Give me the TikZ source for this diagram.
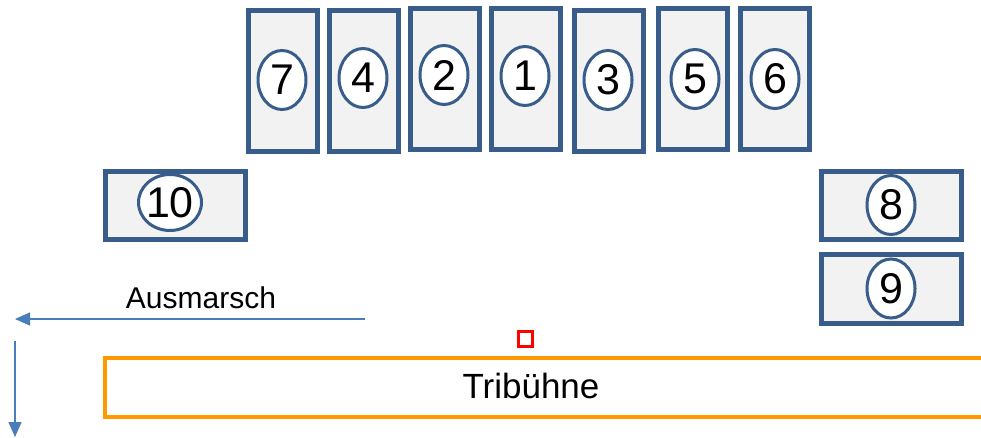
\documentclass[tikz,border=0pt]{standalone}
\usepackage{fontspec}
\setmainfont{Liberation Sans}
\usetikzlibrary{shapes.geometric,arrows.meta}
\definecolor{boxline}{HTML}{385D8A}
\definecolor{boxfill}{HTML}{F2F2F2}
\definecolor{arrowblue}{HTML}{4A7EBB}
\definecolor{tribune}{HTML}{FF9900}
\tikzset{
  tallbox/.style={draw=boxline, fill=boxfill, line width=5pt, inner sep=0pt,
    minimum width=69pt, minimum height=141pt},
  widebox/.style={draw=boxline, fill=boxfill, line width=5pt, inner sep=0pt,
    minimum width=140pt, minimum height=68.5pt},
  num/.style={ellipse, draw=boxline, fill=white, line width=3pt, inner sep=0pt,
    minimum width=48pt, minimum height=59pt, font=\fontsize{43}{43}\selectfont},
  flow/.style={draw=arrowblue, line width=1.5pt, -{Triangle[length=15pt,width=13pt]}},
}
\begin{document}
\begin{tikzpicture}[x=1pt,y=-1pt]
\clip (0,0) rectangle (981,438);
\fill[white] (0,0) rectangle (981,438);
% top row
\node[tallbox] (b7) at (282.5,81) {};
\node[tallbox] (b4) at (363.5,81.5) {};
\node[tallbox] (b2) at (444.5,79.5) {};
\node[tallbox] (b1) at (525.5,79.5) {};
\node[tallbox] (b3) at (609,81) {};
\node[tallbox] (b5) at (692.5,79.5) {};
\node[tallbox] (b6) at (775,79.5) {};
\node[num] (n7) at (282,80) {7};
\node[num] (n4) at (363,78) {4};
\node[num] (n2) at (444,75) {2};
\node[num] (n1) at (525,76) {1};
\node[num] (n3) at (608,80) {3};
\node[num] (n5) at (695,79) {5};
\node[num] (n6) at (775,79) {6};
% side boxes
\node[widebox] (b10) at (175,205.5) {};
\node[widebox] (b8) at (891.5,205.5) {};
\node[widebox, minimum height=69.5pt] (b9) at (891.5,289) {};
\node[num, inner sep=-3pt, minimum width=63pt, minimum height=56pt] (n10) at (170,202.5) {10};
\node[num] (n8) at (891,205) {8};
\node[num] (n9) at (891,288.5) {9};
% tribune
\draw[tribune, line width=4pt] (990,358) -- (105,358) -- (105,417) -- (990,417);
\node[font=\fontsize{35}{35}\selectfont] (trib) at (531,386) {Tribühne};
\node[draw=red, line width=3pt, inner sep=0pt, minimum width=14pt, minimum height=15pt] (mark) at (525.5,339) {};
% exit arrows
\coordinate (aStart) at (365,319);
\coordinate (aCorner) at (15,319);
\coordinate (dStart) at (15,341);
\coordinate (dEnd) at (15,437);
\draw[flow] (aStart) -- (aCorner);
\draw[flow] (dStart) -- (dEnd);
\node[font=\fontsize{30}{30}\selectfont] (aus) at (201,298) {Ausmarsch};
\end{tikzpicture}
\end{document}
